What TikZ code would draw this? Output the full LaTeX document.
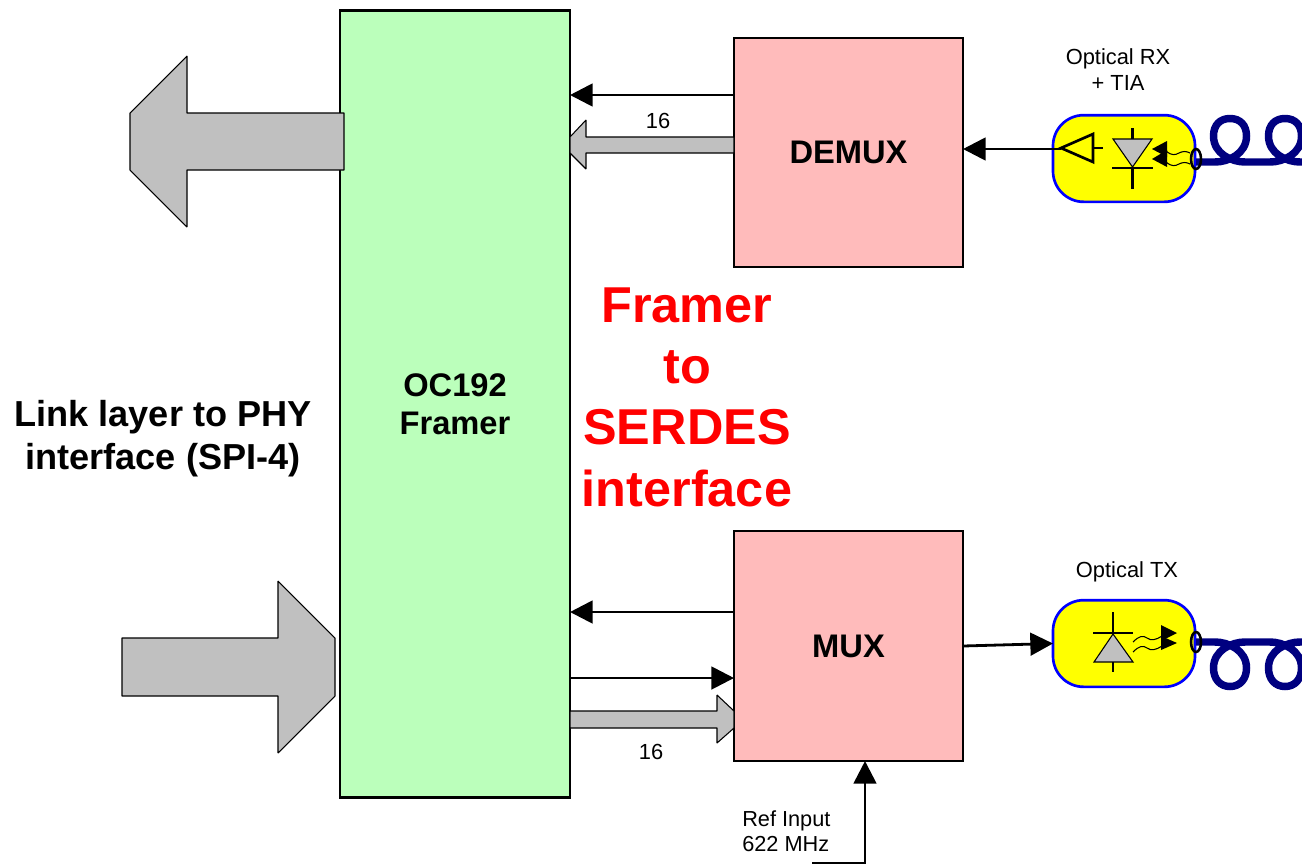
\documentclass[tikz,border=0pt]{standalone}
\usepackage{fontspec}
\setmainfont{Liberation Sans}
\usetikzlibrary{arrows.meta}
\definecolor{framergreen}{HTML}{BBFFBB}
\definecolor{boxpink}{HTML}{FFBBBB}
\definecolor{blockgray}{HTML}{C0C0C0}
\definecolor{fibernavy}{HTML}{000080}
\definecolor{redtext}{HTML}{FF0000}
\definecolor{pillblue}{HTML}{0000FF}
\definecolor{pillyellow}{HTML}{FFFF00}
\newcommand{\fs}[2]{\fontsize{#1}{#2}\selectfont}
\tikzset{
  block/.style={draw=black,line width=2.1pt,inner sep=0pt,outer sep=0pt,align=center,font=\fs{24.5}{28.5}\bfseries},
  pill/.style={draw=pillblue,fill=pillyellow,line width=2pt,rounded corners=23pt,inner sep=0pt,outer sep=0pt,minimum width=106.5pt,minimum height=65pt},
  conn/.style={draw=black,line width=2.1pt,-{Triangle[length=17pt,width=17pt]}},
  grayblock/.style={draw=black,line width=.8pt,fill=blockgray,line join=bevel},
  small/.style={font=\fs{16.4}{19.5},align=center,inner sep=0pt,text=black},
  smallleft/.style={font=\fs{16.3}{19},align=left,inner sep=0pt,text=black},
  redlabel/.style={font=\fs{37.8}{46}\bfseries,text=redtext,align=center,inner sep=0pt},
  linklabel/.style={font=\fs{27.1}{32.3}\bfseries,align=center,inner sep=0pt},
  sym/.style={draw=black,line width=2pt},
  symthin/.style={draw=black,line width=.8pt},
  fiber/.style={draw=fibernavy,line width=5.6pt},
  ring/.style={draw=black,line width=1.9pt},
  solid tip/.style={fill=black,draw=none},
}
\begin{document}
\begin{tikzpicture}[x=.75pt,y=-.75pt]
\clip (0,0) rectangle (1302,865);
% main blocks
\node[block,fill=framergreen,minimum width=172.5pt,minimum height=590.5pt] (framer) at (455,404) {OC192\\Framer};
\node[block,fill=boxpink,minimum width=171.75pt,minimum height=171.75pt] (demux) at (848.5,152.5) {DEMUX};
\node[block,fill=boxpink,minimum width=171.75pt,minimum height=172.5pt] (mux) at (848.5,646) {MUX};
% large SPI-4 arrows
\draw[grayblock] (344,113) -- (187,113) -- (187,56) -- (130,113) -- (130,170) -- (187,227) -- (187,170) -- (344,170) -- cycle;
\draw[grayblock] (122,638) -- (278,638) -- (278,581) -- (335,638) -- (335,696) -- (278,753) -- (278,696) -- (122,696) -- cycle;
% 16-bit gray arrows
\draw[grayblock] (734,137) -- (586,137) -- (586,120) -- (570,137) -- (570,153) -- (586,169) -- (586,153) -- (734,153) -- cycle;
\draw[grayblock] (570,711) -- (717,711) -- (717,695) -- (734,711) -- (734,728) -- (717,743) -- (717,728) -- (570,728) -- cycle;
% black connectors
\draw[conn] (demux.west |- 0,95) -- (framer.east |- 0,95);
\draw[conn] (mux.west |- 0,612) -- (framer.east |- 0,612);
\draw[conn] (framer.east |- 0,678) -- (mux.west |- 0,678);
% optical modules
\node[pill] (rx) at (1124,158.5) {};
\node[pill] (tx) at (1124,643.5) {};
\coordinate (rxamp) at (1061,149);
\coordinate (refin) at (812,863);
\draw[conn] (rxamp) -- (demux.east |- rxamp);
\draw[conn] (mux.east) -- (tx.west);
\draw[conn] (refin) -| (865,0 |- mux.south);
% RX symbols
\draw[sym,line join=miter] (1061,148) -- (1093,134) -- (1093,162) -- cycle;
\draw[symthin] (1093,148) -- (1103,148);
\draw[symthin,fill=blockgray] (1113,139) -- (1152,139) -- (1132.5,167) -- cycle;
\draw[sym] (1132.5,128) -- (1132.5,139);
\draw[sym] (1112,168) -- (1153,168);
\draw[sym] (1132.5,168) -- (1132.5,189);
\fill[solid tip] (1152,149) -- (1167,141) -- (1167,157) -- cycle;
\fill[solid tip] (1152,159) -- (1167,150) -- (1167,167) -- cycle;
\draw[symthin] (1166,151) .. controls (1172,156) and (1175,155) .. (1179,153) .. controls (1183,151) and (1186,151) .. (1190,153);
\draw[symthin] (1166,162) .. controls (1172,167) and (1175,166) .. (1179,164) .. controls (1183,162) and (1186,162) .. (1190,164);
% RX fibre
\draw[fiber] (1196,162) -- (1215,162)
  .. controls (1228,162) and (1246.5,154) .. (1246.5,136)
  .. controls (1246.5,125) and (1240,118.5) .. (1230,118.5)
  .. controls (1220,118.5) and (1213.5,125) .. (1213.5,136)
  .. controls (1213.5,154) and (1232,162) .. (1245,162)
  -- (1270,162)
  .. controls (1283,162) and (1301.5,154) .. (1301.5,136)
  .. controls (1301.5,125) and (1295,118.5) .. (1285,118.5)
  .. controls (1275,118.5) and (1268.5,125) .. (1268.5,136)
  .. controls (1268.5,154) and (1287,162) .. (1300,162)
  -- (1320,162);
\draw[ring] (1196,159) ellipse [x radius=5,y radius=10];
% TX symbols
\draw[symthin,fill=blockgray] (1113,634) -- (1133,662) -- (1094,662) -- cycle;
\draw[sym] (1113,612) -- (1113,633);
\draw[sym] (1093,633) -- (1133,633);
\draw[sym] (1113,662) -- (1113,672);
\fill[solid tip] (1177,633) -- (1161,625) -- (1161,641) -- cycle;
\fill[solid tip] (1177,643) -- (1161,636) -- (1161,650) -- cycle;
\draw[symthin] (1133,642) .. controls (1139,636) and (1143,635) .. (1147,638) .. controls (1151,641) and (1156,640) .. (1162,636);
\draw[symthin] (1133,652) .. controls (1139,646) and (1143,645) .. (1147,648) .. controls (1151,651) and (1156,650) .. (1162,646);
% TX fibre
\draw[fiber] (1196,642) -- (1215,642)
  .. controls (1228,642) and (1246.5,650) .. (1246.5,668)
  .. controls (1246.5,679) and (1240,686.5) .. (1230,686.5)
  .. controls (1220,686.5) and (1213.5,679) .. (1213.5,668)
  .. controls (1213.5,650) and (1232,642) .. (1245,642)
  -- (1270,642)
  .. controls (1283,642) and (1301.5,650) .. (1301.5,668)
  .. controls (1301.5,679) and (1295,686.5) .. (1285,686.5)
  .. controls (1275,686.5) and (1268.5,679) .. (1268.5,668)
  .. controls (1268.5,650) and (1287,642) .. (1300,642)
  -- (1320,642);
\draw[ring] (1196,642) ellipse [x radius=5,y radius=10];
% labels
\node[small] (lrx) at (1118,70) {Optical RX\\+ TIA};
\node[small] (ltx) at (1127,572) {Optical TX};
\node[small] (l16a) at (658,121) {16};
\node[small] (l16b) at (651,752) {16};
\node[smallleft,anchor=west] (lref) at (742,831) {Ref Input\\622 MHz};
\node[redlabel] (lred) at (687,397) {Framer\\to\\SERDES\\interface};
\node[linklabel] (llink) at (163,438.5) {Link layer to PHY\\interface (SPI-4)};
\end{tikzpicture}
\end{document}
